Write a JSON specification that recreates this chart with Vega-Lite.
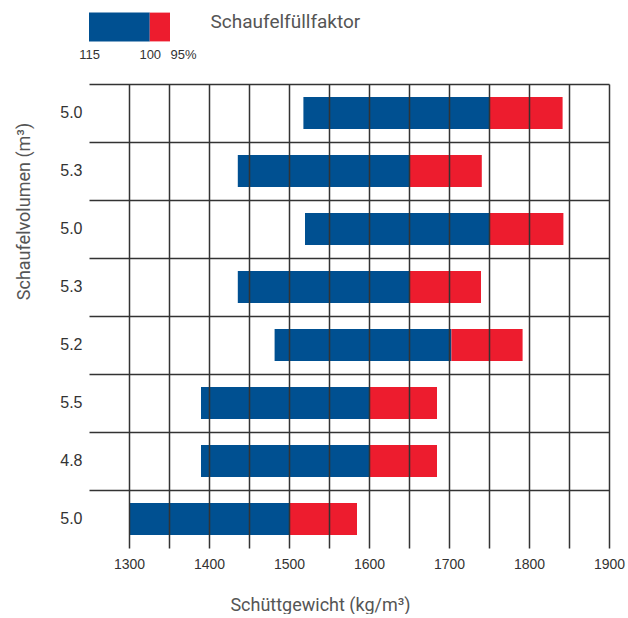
{
  "$schema": "https://vega.github.io/schema/vega-lite/v6.json",
  "padding": {"top": 11, "left": 15, "right": 5, "bottom": 0},
  "background": "white",
  "config": {
    "view": {"stroke": null},
    "font": "Liberation Sans"
  },
  "datasets": {
    "rows": [
      {"key": "1:5.0", "vol": "5.0", "f115": 1518, "f100": 1750, "f95": 1842},
      {"key": "2:5.3", "vol": "5.3", "f115": 1436, "f100": 1650, "f95": 1741},
      {"key": "3:5.0", "vol": "5.0", "f115": 1520, "f100": 1750, "f95": 1843},
      {"key": "4:5.3", "vol": "5.3", "f115": 1436, "f100": 1650, "f95": 1740},
      {"key": "5:5.2", "vol": "5.2", "f115": 1482, "f100": 1703, "f95": 1792},
      {"key": "6:5.5", "vol": "5.5", "f115": 1390, "f100": 1600, "f95": 1685},
      {"key": "7:4.8", "vol": "4.8", "f115": 1390, "f100": 1600, "f95": 1685},
      {"key": "8:5.0", "vol": "5.0", "f115": 1300, "f100": 1500, "f95": 1585}
    ],
    "legend": [
      {"seg": "115-100", "from": 115, "to": 100},
      {"seg": "100-95", "from": 100, "to": 95}
    ]
  },
  "vconcat": [
    {
      "width": 81,
      "height": 32,
      "data": {"name": "legend"},
      "mark": {"type": "bar"},
      "encoding": {
        "x": {
          "field": "from",
          "type": "quantitative",
          "scale": {"domain": [115, 95], "nice": false, "zero": false},
          "axis": {
            "values": [115, 100, 95],
            "labelExpr": "datum.value == 95 ? '95%' : datum.label",
            "labelAlign": {"expr": "datum.value == 95 ? 'left' : 'center'"},
            "labelFlush": false,
            "labelFont": "Liberation Sans",
            "labelFontSize": 13,
            "labelColor": "#333333",
            "labelPadding": 5,
            "domain": false,
            "ticks": false,
            "grid": false,
            "title": "Schaufelfüllfaktor",
            "titleFont": "Roboto",
            "titleFontSize": 19,
            "titleFontWeight": "normal",
            "titleColor": "#555555",
            "titleAlign": "left",
            "titleBaseline": "top",
            "titleX": 121,
            "titleY": -31
          }
        },
        "x2": {"field": "to"},
        "color": {
          "field": "seg",
          "type": "nominal",
          "scale": {"domain": ["115-100", "100-95"], "range": ["#005091", "#ed1c2e"]},
          "legend": null
        }
      }
    },
    {
      "width": 520,
      "height": 464,
      "data": {"name": "rows"},
      "encoding": {
        "y": {
          "field": "key",
          "type": "ordinal",
          "scale": {"paddingInner": 0, "paddingOuter": 0},
          "axis": {
            "bandPosition": 0,
            "grid": true,
            "gridColor": "#333333",
            "gridWidth": 1.5,
            "labelExpr": "split(datum.value, ':')[1]",
            "labelFont": "Liberation Sans",
            "labelFontSize": 16,
            "labelColor": "#333333",
            "labelPadding": 7,
            "ticks": false,
            "domain": false,
            "zindex": 1,
            "title": "Schaufelvolumen (m³)",
            "titleFont": "Roboto",
            "titleFontSize": 18,
            "titleFontWeight": "normal",
            "titleColor": "#555555",
            "titlePadding": 26,
            "titleY": 127
          }
        }
      },
      "layer": [
        {
          "mark": {"type": "bar", "height": {"band": 0.55}, "color": "#005091"},
          "encoding": {
            "x": {
              "field": "f115",
              "type": "quantitative",
              "title": "Schüttgewicht (kg/m³)",
              "scale": {"domain": [1250, 1900], "nice": false, "zero": false},
              "axis": {
                "values": [1300, 1350, 1400, 1450, 1500, 1550, 1600, 1650, 1700, 1750, 1800, 1850, 1900],
                "format": "d",
                "labelExpr": "datum.value % 100 === 0 ? datum.label : ''",
                "labelFlush": false,
                "labelFont": "Liberation Sans",
                "labelFontSize": 14,
                "labelColor": "#333333",
                "labelPadding": 9,
                "grid": true,
                "gridColor": "#333333",
                "gridWidth": 1.5,
                "ticks": false,
                "domain": false,
                "zindex": 1,
                "titleFont": "Roboto",
                "titleFontSize": 18,
                "titleFontWeight": "normal",
                "titleColor": "#555555",
                "titlePadding": 25,
                "titleX": 231
              }
            },
            "x2": {"field": "f100"}
          }
        },
        {
          "mark": {"type": "bar", "height": {"band": 0.55}, "color": "#ed1c2e"},
          "encoding": {
            "x": {"field": "f100", "type": "quantitative", "title": "Schüttgewicht (kg/m³)"},
            "x2": {"field": "f95"}
          }
        }
      ]
    }
  ],
  "spacing": 23
}
